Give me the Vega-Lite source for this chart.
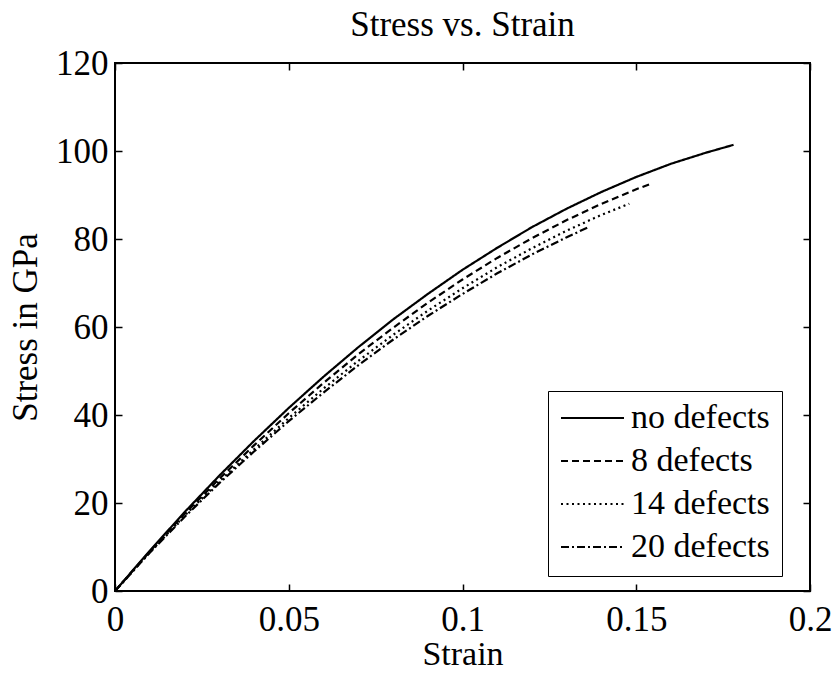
{
  "$schema": "https://vega.github.io/schema/vega-lite/v6.json",
  "width": 695,
  "height": 528,
  "autosize": {"type": "none"},
  "padding": {"left": 115, "top": 63, "right": 23, "bottom": 82},
  "background": "white",
  "title": {
    "text": "Stress vs. Strain",
    "font": "Liberation Serif",
    "fontSize": 35,
    "fontWeight": "normal",
    "color": "black",
    "offset": 3,
    "anchor": "middle"
  },
  "config": {
    "view": {"stroke": "black", "strokeWidth": 2},
    "axis": {
      "grid": false,
      "domain": false,
      "ticks": true,
      "tickColor": "black",
      "tickWidth": 1.5,
      "tickSize": -7,
      "labelFont": "Liberation Serif",
      "labelFontSize": 35,
      "labelColor": "black",
      "labelFlush": false,
      "labelOverlap": false,
      "titleFont": "Liberation Serif",
      "titleFontSize": 35,
      "titleFontWeight": "normal",
      "titleColor": "black"
    }
  },
  "data": {
    "values": [
      {"series": "no defects", "strain": 0.0, "stress": 0.0},
      {"series": "no defects", "strain": 0.01, "stress": 9.15},
      {"series": "no defects", "strain": 0.02, "stress": 17.9},
      {"series": "no defects", "strain": 0.03, "stress": 26.2},
      {"series": "no defects", "strain": 0.04, "stress": 34.1},
      {"series": "no defects", "strain": 0.05, "stress": 41.6},
      {"series": "no defects", "strain": 0.06, "stress": 48.7},
      {"series": "no defects", "strain": 0.07, "stress": 55.4},
      {"series": "no defects", "strain": 0.08, "stress": 61.7},
      {"series": "no defects", "strain": 0.09, "stress": 67.5},
      {"series": "no defects", "strain": 0.10, "stress": 73.0},
      {"series": "no defects", "strain": 0.11, "stress": 78.0},
      {"series": "no defects", "strain": 0.12, "stress": 82.7},
      {"series": "no defects", "strain": 0.13, "stress": 86.9},
      {"series": "no defects", "strain": 0.14, "stress": 90.7},
      {"series": "no defects", "strain": 0.15, "stress": 94.1},
      {"series": "no defects", "strain": 0.16, "stress": 97.1},
      {"series": "no defects", "strain": 0.17, "stress": 99.6},
      {"series": "no defects", "strain": 0.178, "stress": 101.4},

      {"series": "8 defects", "strain": 0.0, "stress": 0.0},
      {"series": "8 defects", "strain": 0.01, "stress": 9.0},
      {"series": "8 defects", "strain": 0.02, "stress": 17.5},
      {"series": "8 defects", "strain": 0.03, "stress": 25.5},
      {"series": "8 defects", "strain": 0.04, "stress": 33.1},
      {"series": "8 defects", "strain": 0.05, "stress": 40.4},
      {"series": "8 defects", "strain": 0.06, "stress": 47.3},
      {"series": "8 defects", "strain": 0.07, "stress": 53.8},
      {"series": "8 defects", "strain": 0.08, "stress": 59.8},
      {"series": "8 defects", "strain": 0.09, "stress": 65.5},
      {"series": "8 defects", "strain": 0.10, "stress": 70.8},
      {"series": "8 defects", "strain": 0.11, "stress": 75.7},
      {"series": "8 defects", "strain": 0.12, "stress": 80.2},
      {"series": "8 defects", "strain": 0.13, "stress": 84.3},
      {"series": "8 defects", "strain": 0.14, "stress": 88.0},
      {"series": "8 defects", "strain": 0.15, "stress": 91.3},
      {"series": "8 defects", "strain": 0.154, "stress": 92.5},

      {"series": "14 defects", "strain": 0.0, "stress": 0.0},
      {"series": "14 defects", "strain": 0.01, "stress": 8.8},
      {"series": "14 defects", "strain": 0.02, "stress": 17.1},
      {"series": "14 defects", "strain": 0.03, "stress": 24.9},
      {"series": "14 defects", "strain": 0.04, "stress": 32.2},
      {"series": "14 defects", "strain": 0.05, "stress": 39.3},
      {"series": "14 defects", "strain": 0.06, "stress": 46.0},
      {"series": "14 defects", "strain": 0.07, "stress": 52.3},
      {"series": "14 defects", "strain": 0.08, "stress": 58.2},
      {"series": "14 defects", "strain": 0.09, "stress": 63.7},
      {"series": "14 defects", "strain": 0.10, "stress": 68.8},
      {"series": "14 defects", "strain": 0.11, "stress": 73.6},
      {"series": "14 defects", "strain": 0.12, "stress": 77.9},
      {"series": "14 defects", "strain": 0.13, "stress": 81.9},
      {"series": "14 defects", "strain": 0.14, "stress": 85.5},
      {"series": "14 defects", "strain": 0.148, "stress": 88.0},

      {"series": "20 defects", "strain": 0.0, "stress": 0.0},
      {"series": "20 defects", "strain": 0.01, "stress": 8.7},
      {"series": "20 defects", "strain": 0.02, "stress": 16.8},
      {"series": "20 defects", "strain": 0.03, "stress": 24.5},
      {"series": "20 defects", "strain": 0.04, "stress": 31.7},
      {"series": "20 defects", "strain": 0.05, "stress": 38.6},
      {"series": "20 defects", "strain": 0.06, "stress": 45.1},
      {"series": "20 defects", "strain": 0.07, "stress": 51.3},
      {"series": "20 defects", "strain": 0.08, "stress": 57.1},
      {"series": "20 defects", "strain": 0.09, "stress": 62.5},
      {"series": "20 defects", "strain": 0.10, "stress": 67.5},
      {"series": "20 defects", "strain": 0.11, "stress": 72.2},
      {"series": "20 defects", "strain": 0.12, "stress": 76.5},
      {"series": "20 defects", "strain": 0.13, "stress": 80.4},
      {"series": "20 defects", "strain": 0.136, "stress": 82.6}
    ]
  },
  "layer": [
    {
      "mark": {"type": "line", "color": "black", "strokeWidth": 2.2},
      "encoding": {
        "x": {
          "field": "strain",
          "type": "quantitative",
          "title": "Strain",
          "scale": {"domain": [0, 0.2], "nice": false, "zero": false},
          "axis": {
            "orient": "bottom",
            "values": [0, 0.05, 0.1, 0.15, 0.2],
            "format": ".2~f",
            "labelPadding": 18,
            "titlePadding": 0,
            "titleFontSize": 34
          }
        },
        "y": {
          "field": "stress",
          "type": "quantitative",
          "title": "Stress in GPa",
          "scale": {"domain": [0, 120], "nice": false, "zero": false},
          "axis": {
            "orient": "left",
            "values": [0, 20, 40, 60, 80, 100, 120],
            "labelPadding": 14,
            "titlePadding": 12
          }
        },
        "strokeDash": {
          "field": "series",
          "type": "nominal",
          "scale": {
            "domain": ["no defects", "8 defects", "14 defects", "20 defects"],
            "range": [[1, 0], [7, 4], [2, 3.5], [8, 3, 2, 3]]
          },
          "legend": {
            "title": null,
            "orient": "none",
            "legendX": 433,
            "legendY": 328,
            "direction": "vertical",
            "strokeColor": "black",
            "fillColor": "white",
            "padding": 12,
            "symbolType": "stroke",
            "symbolSize": 3969,
            "symbolStrokeWidth": 2,
            "symbolStrokeColor": "black",
            "clipHeight": 30,
            "labelFont": "Liberation Serif",
            "labelFontSize": 34,
            "labelColor": "black",
            "labelOffset": 6,
            "labelLimit": 300,
            "rowPadding": 9
          }
        }
      }
    },
    {
      "mark": {"type": "point", "opacity": 0},
      "encoding": {
        "x": {
          "field": "strain",
          "type": "quantitative",
          "axis": {
            "orient": "top",
            "values": [0, 0.05, 0.1, 0.15, 0.2],
            "labels": false,
            "title": null
          }
        },
        "y": {
          "field": "stress",
          "type": "quantitative",
          "axis": {
            "orient": "right",
            "values": [0, 20, 40, 60, 80, 100, 120],
            "labels": false,
            "title": null
          }
        }
      }
    }
  ],
  "resolve": {"axis": {"x": "independent", "y": "independent"}}
}
